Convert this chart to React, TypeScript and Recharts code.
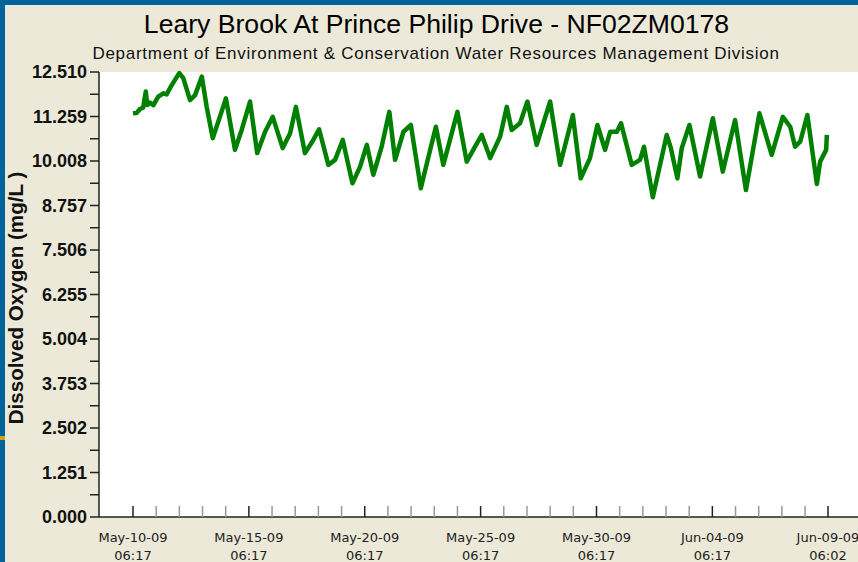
import { CartesianGrid, Line, LineChart, XAxis, YAxis } from 'recharts'

// days since May-10-09 06:17
const dayOffset = [
  0.0, 0.16, 0.3, 0.44, 0.55, 0.62, 0.73, 0.88, 1.09, 1.31, 1.45, 1.67, 2.0, 2.17, 2.46, 2.68,
  2.97, 3.18, 3.44, 3.75, 4.01, 4.4, 4.69, 5.05, 5.36, 5.7, 6.03, 6.46, 6.78, 7.03, 7.42, 7.78,
  8.03, 8.43, 8.72, 9.05, 9.47, 9.8, 10.09, 10.37, 10.73, 11.06, 11.31, 11.67, 11.99, 12.42,
  12.75, 13.07, 13.39, 14.0, 14.4, 14.76, 15.05, 15.41, 15.84, 16.13, 16.34, 16.7, 17.02,
  17.42, 18.0, 18.43, 18.98, 19.32, 19.72, 20.04, 20.37, 20.59, 20.88, 21.06, 21.52, 21.88,
  22.05, 22.43, 23.03, 23.21, 23.49, 23.68, 24.01, 24.47, 25.02, 25.45, 25.98, 26.45, 27.03,
  27.56, 28.04, 28.36, 28.57, 28.79, 29.1, 29.51, 29.65, 29.91, 29.94,
]

// mg/L
const dissolvedOxygen = [
  11.35, 11.36, 11.47, 11.51, 11.96, 11.58, 11.65, 11.58, 11.82, 11.91, 11.88, 12.14, 12.48,
  12.34, 11.72, 11.86, 12.38, 11.53, 10.65, 11.25, 11.77, 10.32, 10.88, 11.68, 10.23, 10.83,
  11.25, 10.37, 10.79, 11.53, 10.23, 10.6, 10.9, 9.9, 10.04, 10.6, 9.38, 9.85, 10.46, 9.62,
  10.41, 11.39, 10.04, 10.83, 11.02, 9.24, 10.13, 10.97, 9.9, 11.39, 9.99, 10.41, 10.74,
  10.09, 10.69, 11.53, 10.88, 11.07, 11.68, 10.46, 11.68, 9.9, 11.3, 9.52, 10.09, 11.02,
  10.32, 10.83, 10.83, 11.07, 9.9, 10.04, 10.41, 8.99, 10.74, 10.37, 9.52, 10.37, 11.02,
  9.57, 11.21, 9.71, 11.16, 9.19, 11.35, 10.18, 11.25, 10.97, 10.41, 10.55, 11.3, 9.36, 9.99,
  10.32, 10.74,
]

const majorTickDays = [0, 5, 10, 15, 20, 25, 29.99]
const majorTickDates = ['May-10-09', 'May-15-09', 'May-20-09', 'May-25-09', 'May-30-09', 'Jun-04-09', 'Jun-09-09']
const majorTickTimes = ['06:17', '06:17', '06:17', '06:17', '06:17', '06:17', '06:02']
const minorTickDays = [
  1, 2, 3, 4, 6, 7, 8, 9, 11, 12, 13, 14, 16, 17, 18, 19, 21, 22, 23, 24, 26, 27, 28, 29,
]

const yTicks = [
  0, 0.6255, 1.251, 1.8765, 2.502, 3.1275, 3.753, 4.3785, 5.004, 5.6295, 6.255, 6.8805, 7.506,
  8.1315, 8.757, 9.3825, 10.008, 10.6335, 11.259, 11.8845, 12.51,
]

const data = dayOffset.map((t, i) => ({ t, value: dissolvedOxygen[i] }))
const xTicks = [...majorTickDays, ...minorTickDays].sort((a, b) => a - b)

const BLUE = '#00639b'
const BEIGE = '#ece9d8'
const SANS = '"Liberation Sans", Arial, sans-serif'

function DateTick(props: any) {
  const { x, y, payload } = props
  const i = majorTickDays.indexOf(payload.value)
  const major = i >= 0
  return (
    <g>
      <line
        x1={x}
        x2={x}
        y1={y - 11}
        y2={y}
        stroke={major ? '#222' : '#999'}
        strokeWidth={1.5}
      />
      {major && (
        <text
          x={x}
          y={y + 25}
          textAnchor="middle"
          fill="#222"
          fontSize={13}
          fontFamily='"DejaVu Sans", sans-serif'
        >
          {majorTickDates[i]}
        </text>
      )}
      {major && (
        <text
          x={x}
          y={y + 43}
          textAnchor="middle"
          fill="#222"
          fontSize={13}
          fontFamily='"DejaVu Sans", sans-serif'
        >
          {majorTickTimes[i]}
        </text>
      )}
    </g>
  )
}

export default function App() {
  return (
    <div
      style={{
        position: 'absolute',
        left: 0,
        top: 0,
        width: 858,
        height: 562,
        overflow: 'hidden',
        background: BLUE,
      }}
    >
      <div style={{ position: 'absolute', left: 5, top: 5, right: 0, bottom: 0, background: BEIGE }} />
      <div style={{ position: 'absolute', left: 0, top: 436, width: 5, height: 4, background: '#d4a017' }} />

      <div style={{ position: 'absolute', left: 0, top: 0 }}>
        <LineChart
          width={870}
          height={562}
          data={data}
          margin={{ top: 72, right: 8, bottom: 0, left: 39 }}
        >
          <CartesianGrid horizontal={false} vertical={false} fill="#ffffff" />
          <XAxis
            dataKey="t"
            type="number"
            domain={[-1.467, 31.457]}
            ticks={xTicks}
            interval={0}
            height={45}
            tickSize={0}
            tickMargin={0}
            tickLine={false}
            tick={<DateTick />}
            axisLine={{ stroke: '#222', strokeWidth: 1.5 }}
          />
          <XAxis
            xAxisId="top"
            orientation="top"
            type="number"
            domain={[0, 1]}
            height={0}
            tick={false}
            tickLine={false}
            axisLine={{ stroke: '#333', strokeWidth: 1.5 }}
          />
          <YAxis
            type="number"
            domain={[0, 12.51]}
            ticks={yTicks}
            interval={0}
            width={60}
            tickSize={9}
            tickMargin={3}
            tickFormatter={(v: number, i: number) => (i % 2 === 0 ? v.toFixed(3) : '')}
            tick={{ fontSize: 18, fontWeight: 'bold', fill: '#111', fontFamily: SANS }}
            tickLine={{ stroke: '#222', strokeWidth: 1.5 }}
            axisLine={{ stroke: '#222', strokeWidth: 1.5 }}
          />
          <YAxis
            yAxisId="right"
            orientation="right"
            mirror
            type="number"
            domain={[0, 12.51]}
            ticks={yTicks}
            interval={0}
            width={0}
            tickSize={9}
            tick={false}
            tickLine={{ stroke: '#222', strokeWidth: 1.5 }}
            axisLine={{ stroke: '#222', strokeWidth: 1.5 }}
          />
          <Line
            dataKey="value"
            type="linear"
            stroke="#008000"
            strokeWidth={4.5}
            strokeLinejoin="round"
            dot={false}
            isAnimationActive={false}
          />
        </LineChart>
      </div>

      <svg
        width={858}
        height={562}
        style={{ position: 'absolute', left: 0, top: 0, pointerEvents: 'none' }}
      >
        <text x={436.5} y={33} textAnchor="middle" fontSize={26.6} fill="#000" fontFamily={SANS}>
          Leary Brook At Prince Philip Drive - NF02ZM0178
        </text>
        <text
          x={436}
          y={59}
          textAnchor="middle"
          fontSize={17}
          letterSpacing={0.72}
          fill="#111"
          fontFamily={SANS}
        >
          Department of Environment &amp; Conservation Water Resources Management Division
        </text>
        <text
          transform="translate(23 298) rotate(-90)"
          textAnchor="middle"
          fontSize={20.6}
          fontWeight="bold"
          fill="#111"
          fontFamily={SANS}
        >
          Dissolved Oxygen (mg/L )
        </text>
      </svg>
    </div>
  )
}
